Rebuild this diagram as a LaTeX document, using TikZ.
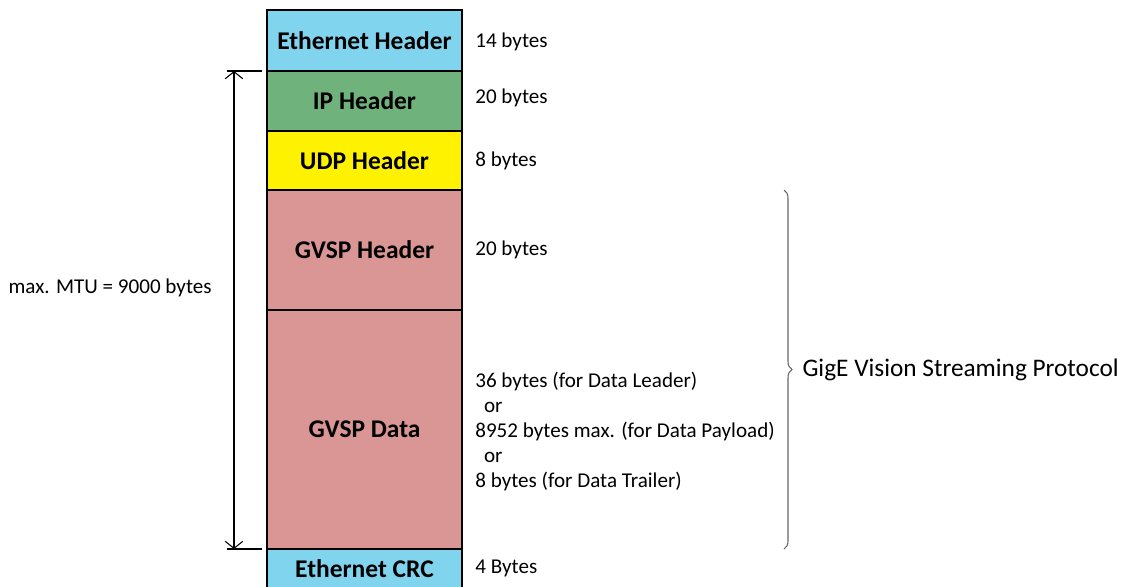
\documentclass[tikz,border=0pt]{standalone}
\usepackage{fontspec}
\setmainfont{Carlito}
\usetikzlibrary{positioning}
\usetikzlibrary{arrows.meta}
\usetikzlibrary{decorations.pathreplacing}

\definecolor{ethblue}{HTML}{80D4EE}
\definecolor{ipgreen}{HTML}{70B27C}
\definecolor{gvsppink}{HTML}{D99694}

\tikzset{
  field/.style={draw, thick, minimum width=3.9cm, inner sep=0pt, outer sep=0pt,
    font=\fontsize{14.5}{16}\selectfont\bfseries},
  size/.style={inner sep=0pt, align=left, font=\fontsize{12}{14.3}\selectfont},
}

\begin{document}
\begin{tikzpicture}[x=0.02cm,y=-0.02cm]
  \useasboundingbox (0,0) rectangle (1126,586);

  % packet fields
  \node[field, fill=ethblue, minimum height=1.22cm, anchor=north west] (eth) at (267,10) {Ethernet Header};
  \node[field, fill=ipgreen, minimum height=1.2cm, below=0pt of eth] (ip) {IP Header};
  \node[field, fill=yellow, minimum height=1.18cm, below=0pt of ip] (udp) {UDP Header};
  \node[field, fill=gvsppink, minimum height=2.4cm, below=0pt of udp] (gvsph) {GVSP Header};
  \node[field, fill=gvsppink, minimum height=4.78cm, below=0pt of gvsph] (gvspd) {GVSP Data};
  \node[field, fill=ethblue, minimum height=0.8cm, below=0pt of gvspd] (crc) {Ethernet CRC};

  % sizes
  \node[size, right=0.26cm of eth, yshift=-0.03cm] (etsz) {14 bytes};
  \node[size, right=0.26cm of ip, yshift=0.06cm] (ipsz) {20 bytes};
  \node[size, right=0.26cm of udp] (udsz) {8 bytes};
  \node[size, right=0.26cm of gvsph] (ghsz) {20 bytes};
  \node[size, right=0.26cm of gvspd, yshift=-0.04cm] (gdsz) {36 bytes (for Data Leader)\\
    \hspace*{5pt}or\\
    8952 bytes max. (for Data Payload)\\
    \hspace*{5pt}or\\
    8 bytes (for Data Trailer)};
  \node[size, right=0.26cm of crc] (crsz) {4 Bytes};

  % MTU span
  \coordinate (mtutop) at (234,71);
  \coordinate (mtubot) at (234,549);
  \coordinate (mtumid) at (234,288);
  \coordinate (tkta) at (227,71);
  \coordinate (tktb) at (262,71);
  \coordinate (tkba) at (227,549);
  \coordinate (tkbb) at (262,549);
  \draw[semithick] (tkta) -- (tktb);
  \draw[semithick] (tkba) -- (tkbb);
  \draw[semithick, {Straight Barb[length=4pt,width=10pt]}-{Straight Barb[length=4pt,width=10pt]}] (mtutop) -- (mtubot);
  \node[size, left=0.44cm of mtumid] (mtu) {max. MTU = 9000 bytes};

  % GVSP brace
  \coordinate (brtop) at (784,190);
  \coordinate (brbot) at (784,549);
  \draw[black!60, semithick, decorate, decoration={brace, amplitude=0.16cm}] (brtop) -- (brbot)
    node[size, midway, right=0.36cm, text=black, font=\fontsize{14.4}{16}\selectfont] (gvsp) {GigE Vision Streaming Protocol};
\end{tikzpicture}
\end{document}
